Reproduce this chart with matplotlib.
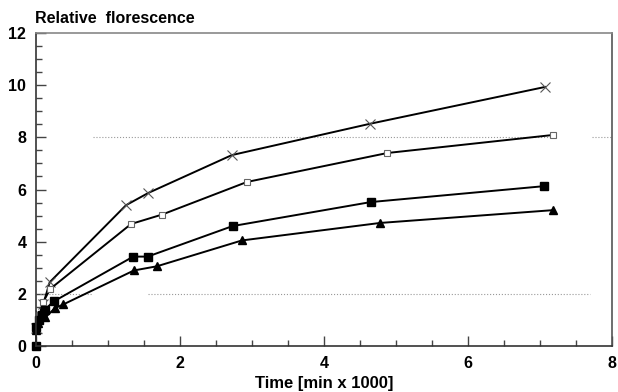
import numpy as np
import matplotlib
matplotlib.use("Agg")
import matplotlib.pyplot as plt
from matplotlib.ticker import MultipleLocator

plt.rcParams['font.family'] = ['Liberation Sans', 'DejaVu Sans']
plt.rcParams['font.weight'] = 'bold'

# time in min x 1000, relative florescence
x_cross = [0.0, 0.05, 0.1, 0.19, 1.25, 1.56, 2.72, 4.64, 7.07]
y_cross = [0.7, 1.2, 1.6, 2.45, 5.4, 5.87, 7.32, 8.52, 9.93]

x_open = [0.0, 0.05, 0.1, 0.2, 1.32, 1.75, 2.93, 4.88, 7.18]
y_open = [0.7, 1.2, 1.7, 2.2, 4.68, 5.04, 6.29, 7.4, 8.09]

x_fill = [0.0, 0.0, 0.04, 0.08, 0.12, 0.25, 1.35, 1.55, 2.73, 4.65, 7.06]
y_fill = [0.0, 0.73, 1.0, 1.2, 1.4, 1.72, 3.43, 3.43, 4.6, 5.52, 6.13]

x_tri = [0.0, 0.03, 0.13, 0.26, 0.38, 1.36, 1.68, 2.86, 4.78, 7.18]
y_tri = [0.6, 0.9, 1.1, 1.45, 1.6, 2.9, 3.06, 4.05, 4.72, 5.21]

fig = plt.figure(figsize=(6.18, 3.92), dpi=100)
ax = fig.add_axes([0.0583, 0.117, 0.932, 0.799])

# faint dotted grid fragments
ax.plot([0.79, 7.18], [8, 8], ls=':', color='#999999', lw=0.8)
ax.plot([7.72, 8.0], [8, 8], ls=':', color='#999999', lw=0.8)
ax.plot([0.05, 0.78], [2, 2], ls=':', color='#999999', lw=0.8)
ax.plot([1.56, 7.69], [2, 2], ls=':', color='#999999', lw=0.8)

ax.plot(x_cross, y_cross, color='black', lw=1.4, marker='x', ms=7,
        mec='#555555', mew=0.8, clip_on=False)
ax.plot(x_open, y_open, color='black', lw=1.4, marker='s', ms=5,
        mfc='white', mec='#666666', mew=0.8, clip_on=False)
ax.plot(x_fill, y_fill, color='black', lw=1.4, marker='s', ms=6,
        mfc='black', mec='black', clip_on=False)
ax.plot(x_tri, y_tri, color='black', lw=1.4, marker='^', ms=6,
        mfc='black', mec='black', clip_on=False)

ax.set_xlim(0, 8)
ax.set_ylim(0, 12)
ax.xaxis.set_major_locator(MultipleLocator(2))
ax.xaxis.set_minor_locator(MultipleLocator(0.5))
ax.yaxis.set_major_locator(MultipleLocator(2))
ax.yaxis.set_minor_locator(MultipleLocator(0.5))
ax.tick_params(which='both', direction='in', labelsize=11.5)
ax.tick_params(which='major', length=7, width=1, color='#444444')
ax.tick_params(which='minor', length=4, width=1, color='#444444')
ax.tick_params(axis='x', pad=7)
ax.tick_params(axis='y', pad=7)
for lab in ax.get_xticklabels() + ax.get_yticklabels():
    lab.set_fontweight('bold')

ax.spines['left'].set_color('#333333')
ax.spines['bottom'].set_color('#333333')
ax.spines['top'].set_color('#888888')
ax.spines['right'].set_color('#555555')
for s in ax.spines.values():
    s.set_linewidth(1.2)

ax.set_xlabel('Time [min x 1000]', fontsize=12, fontweight='bold', labelpad=4)
fig.text(0.057, 0.942, 'Relative  florescence', fontsize=11.5, fontweight='bold')

fig.savefig('out.png', dpi=100)
